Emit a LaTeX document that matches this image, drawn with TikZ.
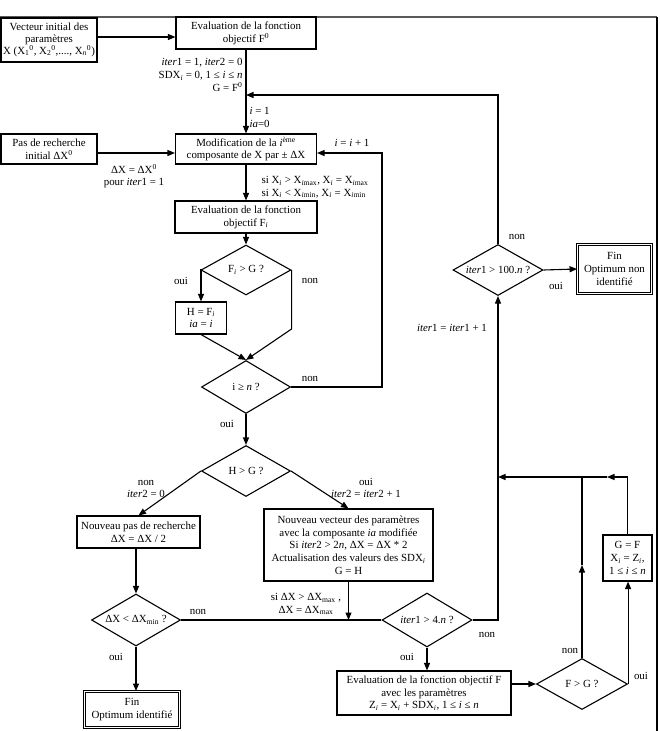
\documentclass[tikz,border=0pt]{standalone}
\usepackage{fontspec}
\setmainfont{Liberation Serif}
\usetikzlibrary{shapes.geometric,arrows.meta}
\newcommand{\sbi}{\textsubscript{\textit{i}}}
\begin{document}
\begin{tikzpicture}[x=1pt,y={(0pt,-1pt)},
  every node/.style={font=\fontsize{10.9}{12.7}\selectfont},
  line width=1.1pt,
  box/.style={draw, rectangle, align=center, inner sep=1pt},
  finbox/.style={draw, rectangle, align=center, inner sep=1pt, double, double distance=1.3pt, line width=0.9pt},
  dia/.style={draw, diamond, align=center, inner sep=0pt, aspect=1.8},
  lbl/.style={inner sep=0pt, align=center},
  arr/.style={-{Triangle[length=7.5pt,width=6pt]}}]
\useasboundingbox (0,0) rectangle (659,731);
% frame
\draw[line width=1.3pt, gray!70!black] (0,17) -- (657,17);
\draw[line width=2pt] (657,17) -- (657,731);
% boxes
\node[box, minimum width=96pt, minimum height=44pt] (init) at (49,40)
  {Vecteur initial des\\[-1pt]paramètres\\[-1pt]X (X\textsubscript{1}\textsuperscript{0}, X\textsubscript{2}\textsuperscript{0},...., X\textsubscript{\textit{n}}\textsuperscript{0})};
\node[box, minimum width=140pt, minimum height=32pt] (eval0) at (246,33)
  {Evaluation de la fonction\\objectif F\textsuperscript{0}};
\node[box, minimum width=96pt, minimum height=30pt] (pas) at (49,149)
  {Pas de recherche\\initial ΔX\textsuperscript{0}};
\node[box, minimum width=141pt, minimum height=30pt] (modif) at (246,149)
  {Modification de la \textit{i}\textsuperscript{ème}\\composante de X par ± ΔX};
\node[box, minimum width=142pt, minimum height=32pt] (evalFi) at (246,217)
  {Evaluation de la fonction\\objectif F\sbi};
\node[dia, minimum width=90pt, minimum height=50pt] (d1) at (246,270) {F\sbi{} > G ?};
\node[box, minimum width=51pt, minimum height=32pt] (H) at (201,318)
  {H = F\sbi\\\textit{ia} = \textit{i}};
\node[dia, minimum width=89pt, minimum height=53pt] (d2) at (246,387) {i ≥ \textit{n} ?};
\node[dia, minimum width=89pt, minimum height=51pt] (d3) at (246,471) {H > G ?};
\node[box, minimum width=123pt, minimum height=32pt] (np) at (138.5,532)
  {Nouveau pas de recherche\\ΔX = ΔX / 2};
\node[box, minimum width=169pt, minimum height=72pt] (nv) at (348.5,545)
  {Nouveau vecteur des paramètres\\avec la composante \textit{ia} modifiée\\Si \textit{iter}2 > 2\textit{n}, ΔX = ΔX * 2\\Actualisation des valeurs des SDX\sbi\\G = H};
\node[dia, minimum width=89pt, minimum height=52pt] (d4) at (136,620) {ΔX < ΔX\textsubscript{min} ?};
\node[finbox, minimum width=95pt, minimum height=36pt] (fin1) at (132,709.5)
  {Fin\\Optimum identifié};
\node[dia, minimum width=90pt, minimum height=54pt] (d5) at (427,620) {\textit{iter}1 > 4.\textit{n} ?};
\node[box, minimum width=174pt, minimum height=44pt] (evalF) at (424,693)
  {Evaluation de la fonction objectif F\\avec les paramètres\\Z\sbi{} = X\sbi{} + SDX\sbi, 1 ≤ \textit{i} ≤ \textit{n}};
\node[dia, minimum width=91pt, minimum height=51pt] (d6) at (582,684) {F > G ?};
\node[box, minimum width=49pt, minimum height=46pt] (GF) at (627.5,558)
  {G = F\\X\sbi{} = Z\sbi,\\1 ≤ \textit{i} ≤ \textit{n}};
\node[dia, minimum width=90pt, minimum height=51pt] (d7) at (498,270) {\textit{iter}1 > 100.\textit{n} ?};
\node[finbox, minimum width=74pt, minimum height=49pt] (fin2) at (614.5,269)
  {Fin\\Optimum non\\identifié};
% helper coordinates
\coordinate (j1) at (246,95);
\coordinate (r1) at (382,153);
\coordinate (c1) at (0,329);
\coordinate (h1) at (498,477);
\coordinate (m1) at (607,477);
\coordinate (m2) at (582,565);
% connectors
\draw[arr] ([yshift=3pt]init.east) -- ([yshift=3pt]init.east -| eval0.west);
\draw[arr] (eval0.south) -- (modif.north);
\draw[arr] (d7.north) |- (j1);
\draw[arr] ([yshift=-4pt]pas.east) -- ([yshift=-4pt]pas.east -| modif.west);
\draw[arr] (modif.south) -- (evalFi.north);
\draw[arr] (evalFi.south) -- (d1.north);
\draw[arr] (d1.west) -| (H.north);
\draw[arr] (d1.east) -- (d1.east |- c1) -- (d2.north);
\draw[arr] (H.south) -- (d2.north);
\draw[arr] (d2.east) -| (r1) -- (r1 -| modif.east);
\draw[arr] (d2.south) -- (d3.north);
\draw[arr] (d3.west) -- (np.north);
\draw[arr] (d3.east) -- (nv.north);
\draw[arr] (d4.north |- np.south) -- (d4.north);
\draw[arr] (d4.south) -- (d4.south |- fin1.north);
\draw (d4.east) -- (d5.west);
\draw[arr] (nv.south) -- (nv.south |- d5.west);
\draw[arr] (d5.east) -| (d7.south);
\draw[arr] (d5.south) -- (d5.south |- evalF.north);
\draw[arr] (evalF.east |- d6.west) -- (d6.west);
\draw[arr] (d6.north) -- (m2);
\draw (m2) -- (m2 |- h1);
\draw[arr] (d6.east) -- (d6.east |- GF.south);
\draw[arr] (GF.north) |- (m1);
\draw[arr] (m1) -- (h1);
\draw[arr] (d7.east) -- (fin2.west);
% labels
\node[lbl, align=right, anchor=north east] (l1) at (243,58)
  {\textit{iter}1 = 1, \textit{iter}2 = 0\\SDX\sbi{} = 0, 1 ≤ \textit{i} ≤ \textit{n}\\G = F\textsuperscript{0}};
\node[lbl, align=left, anchor=west] (l2) at (249,117.5) {\textit{i} = 1\\\textit{ia}=0};
\node[lbl] (l3) at (134,176) {ΔX = ΔX\textsuperscript{0}\\pour \textit{iter}1 = 1};
\node[lbl, align=left, anchor=west] (l4) at (261,187)
  {si X\sbi{} > X\textsubscript{\textit{i}max}, X\sbi{} = X\textsubscript{\textit{i}max}\\si X\sbi{} < X\textsubscript{\textit{i}min}, X\sbi{} = X\textsubscript{\textit{i}min}};
\node[lbl] (l5) at (352,143) {\textit{i} = \textit{i} + 1};
\node[lbl] (l6) at (181,281) {oui};
\node[lbl] (l7) at (310,281) {non};
\node[lbl] (l8) at (310,379) {non};
\node[lbl] (l9) at (227,424) {oui};
\node[lbl] (l10) at (146,489) {non\\\textit{iter}2 = 0};
\node[lbl] (l11) at (366,488) {oui\\\textit{iter}2 = \textit{iter}2 + 1};
\node[lbl] (l12) at (306,604) {si ΔX > ΔX\textsubscript{max} ,\\ΔX = ΔX\textsubscript{max}};
\node[lbl] (l13) at (198,612) {non};
\node[lbl] (l14) at (116,657) {oui};
\node[lbl] (l15) at (487,635) {non};
\node[lbl] (l16) at (407,657) {oui};
\node[lbl] (l17) at (570,651) {non};
\node[lbl] (l18) at (641,676) {oui};
\node[lbl] (l19) at (452,328) {\textit{iter}1 = \textit{iter}1 + 1};
\node[lbl] (l20) at (517,237) {non};
\node[lbl] (l21) at (556,286) {oui};
\end{tikzpicture}
\end{document}
